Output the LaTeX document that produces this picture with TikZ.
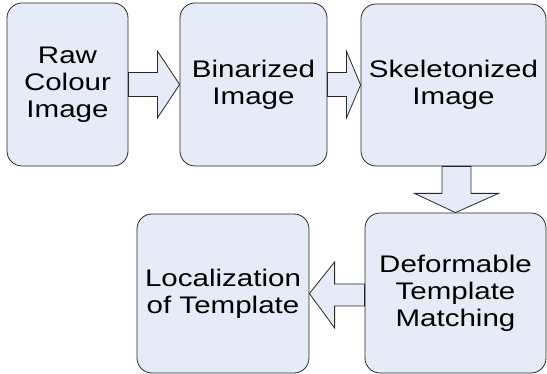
\documentclass[tikz,border=0pt]{standalone}
\usepackage{fontspec}
\newfontfamily\diagfont[FakeStretch=1.23]{Liberation Sans}
\usetikzlibrary{calc}
\definecolor{boxfill}{RGB}{230,236,247}
\definecolor{boxline}{RGB}{40,40,40}
\tikzset{
	stage/.style={draw=boxline, line width=0.8pt, rounded corners=15pt, fill=boxfill, text centered, align=center, inner sep=0pt, font={\diagfont\fontsize{24}{27}\selectfont}},
	blockarrow/.style={draw=boxline, line width=0.8pt, fill=boxfill, line join=miter}
}
\begin{document}
\begin{tikzpicture}[x=1pt, y=-1pt]
		\useasboundingbox (0,0) rectangle (547,374);
		\node (Raw Image) at (67.5,84.5) [stage, minimum width=121pt, minimum height=163pt]{Raw\\Colour\\Image};
		\node (Binarized Image) at (253.5,84.5) [stage, minimum width=147pt, minimum height=163pt]{Binarized\\Image};
		\node (Skeleton Image) at (453.5,85) [stage, minimum width=185pt, minimum height=162pt]{Skeletonized\\Image};
		\node (Template Matching) at (455.5,293) [stage, minimum width=181pt, minimum height=160pt]{Deformable\\Template\\Matching};
		\node (Localization) at (223,293.5) [stage, minimum width=172pt, minimum height=159pt]{Localization\\of Template};
		
		\draw[blockarrow] ($(Raw Image.east)+(0,-12)$) -- ++(29,0) -- ++(0,-21.5) -- (Binarized Image.west) 
		-- ($(Raw Image.east)+(29,33.5)$) -- ++(0,-21.5) -- ($(Raw Image.east)+(0,12)$) -- cycle;
		\draw[blockarrow] ($(Binarized Image.east)+(0,-12)$) -- ++(19,0) -- ++(0,-21.5) -- (Skeleton Image.west) 
		-- ($(Binarized Image.east)+(19,33.5)$) -- ++(0,-21.5) -- ($(Binarized Image.east)+(0,12)$) -- cycle;
		\draw[blockarrow] ($(Skeleton Image.south)+(-11.5,0)$) -- ++(0,27) -- ++(-27.5,0) -- (Template Matching.north) 
		-- ($(Skeleton Image.south)+(45,27)$) -- ++(-27.5,0) -- ($(Skeleton Image.south)+(17.5,0)$) -- cycle;
		\draw[blockarrow] ($(Template Matching.west)+(0,-9)$) -- ++(-30,0) -- ++(0,-22) -- (Localization.east) 
		-- ($(Template Matching.west)+(-30,35)$) -- ++(0,-22) -- ($(Template Matching.west)+(0,13)$) -- cycle;
\end{tikzpicture}
\end{document}
